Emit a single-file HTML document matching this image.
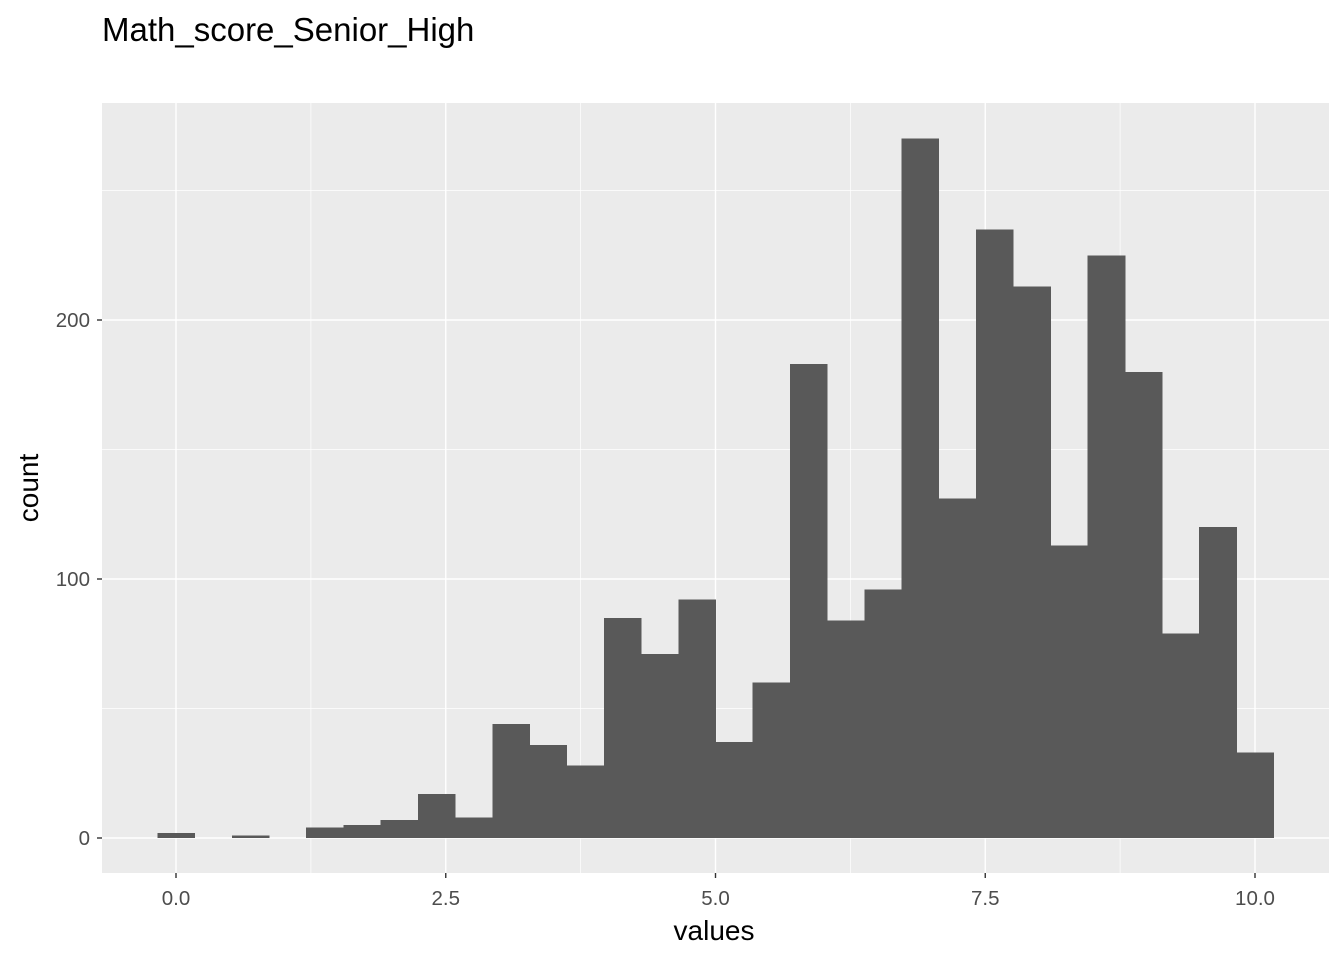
<!DOCTYPE html>
<html><head><meta charset="utf-8"><style>
body{margin:0;background:#fff;}
svg{display:block;font-family:"Liberation Sans",sans-serif;}
</style></head><body>
<svg id="chart" width="1344" height="960">
<text x="102" y="41" font-size="33" fill="#000">Math_score_Senior_High</text>
<rect x="102" y="103" width="1227" height="770" fill="#ebebeb"/>
<g id="grid"></g><g id="bars" shape-rendering="crispEdges"></g><g id="axes"></g>
<text x="714" y="940" font-size="28" text-anchor="middle" fill="#000">values</text>
<text transform="translate(38,488) rotate(-90)" font-size="28" text-anchor="middle" fill="#000">count</text>
</svg>
<script>
const binCenters=[0,0.3448,0.6897,1.0345,1.3793,1.7241,2.069,2.4138,2.7586,3.1034,3.4483,3.7931,4.1379,4.4828,4.8276,5.1724,5.5172,5.8621,6.2069,6.5517,6.8966,7.2414,7.5862,7.931,8.2759,8.6207,8.9655,9.3103,9.6552,10];
const counts=[2,0,1,0,4,5,7,17,8,44,36,28,85,71,92,37,60,183,84,96,270,131,235,213,113,225,180,79,120,33];
const binWidth=0.3448;
const xTicks=[0,2.5,5,7.5,10];
const xTickLabels=["0.0","2.5","5.0","7.5","10.0"];
const xMinor=[1.25,3.75,6.25,8.75];
const yTicks=[0,100,200];
const yMinor=[50,150,250];
const X=v=>176+v*107.9;
const Y=v=>838-v*2.59;
const NS="http://www.w3.org/2000/svg";
function mk(parent,tag,attrs){const e=document.createElementNS(NS,tag);for(const k in attrs)e.setAttribute(k,attrs[k]);document.getElementById(parent).appendChild(e);return e;}
yMinor.forEach(v=>{const l=mk('grid','line',{x1:102,x2:1329,y1:Y(v),y2:Y(v),stroke:'#fff','stroke-width':0.7});

});
xMinor.forEach(v=>{const l=mk('grid','line',{x1:X(v),x2:X(v),y1:103,y2:873,stroke:'#fff','stroke-width':0.7});

});
yTicks.forEach(v=>{const l=mk('grid','line',{x1:102,x2:1329,y1:Y(v),y2:Y(v),stroke:'#fff','stroke-width':1.4});


const t=mk('axes','line',{x1:97,x2:102,y1:Y(v),y2:Y(v),stroke:'#333','stroke-width':1.4});


const tx=mk('axes','text',{x:90,y:Y(v)+7,'font-size':20.5,'text-anchor':'end',fill:'#4d4d4d'});tx.textContent=v;

});
xTicks.forEach((v,i)=>{const l=mk('grid','line',{x1:X(v),x2:X(v),y1:103,y2:873,stroke:'#fff','stroke-width':1.4});


const t=mk('axes','line',{x1:X(v),x2:X(v),y1:873,y2:878,stroke:'#333','stroke-width':1.4});


const tx=mk('axes','text',{x:X(v),y:905,'font-size':20.5,'text-anchor':'middle',fill:'#4d4d4d'});tx.textContent=xTickLabels[i];

});
binCenters.forEach((c,i)=>{if(counts[i]<=0)return;const x0=X(c-binWidth/2),x1=X(c+binWidth/2);
const r=mk('bars','rect',{x:x0,y:Y(counts[i]),width:x1-x0+0.5,height:Y(0)-Y(counts[i]),fill:'#595959'});

});
</script>
</body></html>
